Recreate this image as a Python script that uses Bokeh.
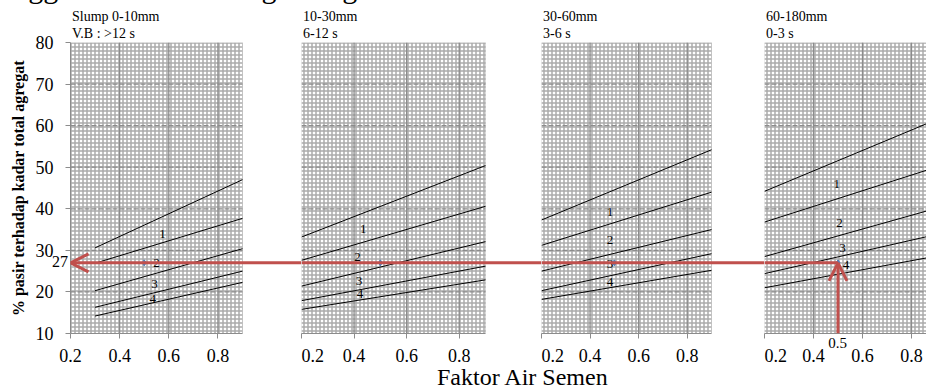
from bokeh.plotting import figure
from bokeh.layouts import row, column
from bokeh.models import Range1d, FixedTicker, BoxAnnotation, Arrow, OpenHead, Div
from bokeh.embed import file_html
from bokeh.resources import INLINE
from bokeh.core.properties import value

# ---------------- data ----------------
title_text = "Menggunakan Pasir Progo dengan Daerah Gradasi 4"
x_title = "Faktor Air Semen"
y_title = "% pasir terhadap kadar total agregat"

panel_slump = ["Slump 0-10mm", "10-30mm", "30-60mm", "60-180mm"]
panel_vb = ["V.B : >12 s", "6-12 s", "3-6 s", "0-3 s"]

x_ticks = [0.2, 0.4, 0.6, 0.8]
y_ticks = [10, 20, 30, 40, 50, 60, 70, 80]
x_min, x_max = 0.2, 0.9

# boundary lines of grading zones (upper of zone 1 ... lower of zone 4)
p1_x = [0.3, 0.9]
p1_lines = [[30.6, 47.0], [26.9, 37.7], [20.3, 30.4], [16.3, 25.0], [14.2, 22.3]]
p2_x = [0.2, 0.9]
p2_lines = [[33.2, 50.4], [27.6, 40.6], [21.4, 32.1], [17.9, 26.2], [15.8, 22.9]]
p3_x = [0.2, 0.9]
p3_lines = [[37.3, 54.2], [31.2, 44.0], [25.0, 35.0], [20.3, 29.2], [18.2, 25.2]]
p4_x = [0.2, 0.9]
p4_lines = [[44.2, 61.4], [36.8, 50.0], [28.5, 40.1], [24.4, 33.8], [21.0, 28.6]]

zone_names = ["1", "2", "3", "4"]
p1_zone_x = [0.574, 0.550, 0.542, 0.535]
p1_zone_y = [34.0, 26.9, 21.8, 18.3]
p2_zone_x = [0.435, 0.413, 0.419, 0.423]
p2_zone_y = [35.2, 28.4, 22.7, 19.5]
p3_zone_x = [0.482, 0.482, 0.482, 0.482]
p3_zone_y = [39.2, 32.4, 26.8, 22.3]
p4_zone_x = [0.495, 0.506, 0.518, 0.533]
p4_zone_y = [46.0, 36.5, 30.6, 26.4]

lookup_x = 0.5   # faktor air semen
lookup_y = 27    # % pasir

panels = [
    (p1_x, p1_lines, p1_zone_x, p1_zone_y),
    (p2_x, p2_lines, p2_zone_x, p2_zone_y),
    (p3_x, p3_lines, p3_zone_x, p3_zone_y),
    (p4_x, p4_lines, p4_zone_x, p4_zone_y),
]

# ---------------- layout / style ----------------
SERIF = "Liberation Serif"
RED = "#c0504d"
GRID_DARK = "#8c8c8c"
HATCH = "#ababab"
BLUE = "#4f81bd"

TOP, FRAME_H, BOTTOM = 42, 291, 35
H = TOP + FRAME_H + BOTTOM
panel_px = [172, 184, 170, 171.5]   # pixel width of the 0.2..0.9 panel
frame_px = [231, 240, 223, 162]     # pixel width of each figure frame (panel + gap)
left_border = [70, 0, 0, 0]
DIV_H = 22

figs = []
panel_left_px = []
x_scales = []
acc = 0
for i, (px, lines, zx, zy) in enumerate(panels):
    scale = panel_px[i] / (x_max - x_min)
    x_end = x_min + frame_px[i] / scale
    panel_left_px.append(acc + left_border[i])
    x_scales.append(scale)
    acc += left_border[i] + frame_px[i]

    p = figure(width=left_border[i] + frame_px[i], height=H,
               x_range=Range1d(x_min, x_end), y_range=Range1d(y_ticks[0], y_ticks[-1]),
               output_backend="svg", toolbar_location=None,
               y_axis_location="left" if i == 0 else None,
               min_border_left=left_border[i], min_border_right=0,
               min_border_top=TOP, min_border_bottom=BOTTOM,
               outline_line_color=None, background_fill_color="white",
               border_fill_color="white")
    p.grid.visible = False

    # panel background (fine grid pattern) + border
    p.add_layout(BoxAnnotation(left=x_min, right=x_max, bottom=y_ticks[0], top=y_ticks[-1],
                               fill_color="white", fill_alpha=1.0,
                               hatch_pattern="+", hatch_color=HATCH, hatch_scale=4,
                               hatch_weight=1.5, hatch_alpha=1.0,
                               line_color=GRID_DARK, line_width=1, level="underlay"))
    # major grid
    p.segment(x0=x_ticks[1:], x1=x_ticks[1:], y0=y_ticks[0], y1=y_ticks[-1],
              line_color=GRID_DARK, line_width=1.3)
    p.segment(x0=x_min, x1=x_max, y0=y_ticks[1:-1], y1=y_ticks[1:-1],
              line_color=GRID_DARK, line_width=1.3, line_dash="5 2")

    # zone boundary lines
    p.multi_line(xs=[px] * len(lines), ys=lines, line_color="black", line_width=1)
    p.text(x=zx, y=zy, text=zone_names, text_font=value(SERIF), text_font_size="13px",
           text_align="center", text_baseline="middle", text_color="#000000")

    # lookup marker
    p.scatter([lookup_x], [lookup_y], marker="diamond", size=6, color=BLUE)

    # x axis
    xa = p.xaxis[0]
    xa.ticker = FixedTicker(ticks=x_ticks)
    xa.bounds = (x_min, x_max)
    xa.axis_line_color = GRID_DARK
    xa.major_tick_line_color = GRID_DARK
    xa.major_tick_out = 5
    xa.major_tick_in = 0
    xa.minor_tick_out = 0
    xa.minor_tick_in = 0
    xa.major_label_text_font = SERIF
    xa.major_label_text_font_size = "18px"
    xa.major_label_text_color = "black"
    xa.major_label_standoff = 10

    # red lookup arrow pieces
    if i == 0:
        p.add_layout(Arrow(x_start=x_end, y_start=lookup_y, x_end=x_min, y_end=lookup_y,
                           start=None, end=OpenHead(size=18, line_color=RED, line_width=3),
                           line_color=RED, line_width=3))
    elif i < 3:
        p.segment(x0=x_min, x1=x_end, y0=lookup_y, y1=lookup_y, line_color=RED, line_width=3)
    else:
        p.segment(x0=x_min, x1=lookup_x, y0=lookup_y, y1=lookup_y, line_color=RED, line_width=3)
        p.add_layout(Arrow(x_start=lookup_x, y_start=y_ticks[0], x_end=lookup_x, y_end=lookup_y,
                           start=None, end=OpenHead(size=18, line_color=RED, line_width=3),
                           line_color=RED, line_width=3))

    if i == 0:
        ya = p.yaxis[0]
        ya.ticker = FixedTicker(ticks=y_ticks)
        ya.axis_line_color = GRID_DARK
        ya.major_tick_line_color = GRID_DARK
        ya.major_tick_out = 5
        ya.major_tick_in = 0
        ya.minor_tick_out = 0
        ya.minor_tick_in = 0
        ya.major_label_text_font = SERIF
        ya.major_label_text_font_size = "18px"
        ya.major_label_text_color = "black"
        ya.major_label_standoff = 12
        ya.axis_label = y_title
        ya.axis_label_text_font = SERIF
        ya.axis_label_text_font_size = "16px"
        ya.axis_label_text_font_style = "bold"
        ya.axis_label_text_color = "black"
        ya.axis_label_standoff = 6
    figs.append(p)

total_w = acc

# ---------- texts outside the plot frames (HTML overlay below the row) ----------
def y_px(v):  # canvas y of a data value
    return TOP + (y_ticks[-1] - v) / (y_ticks[-1] - y_ticks[0]) * FRAME_H

def txt(s, left, baseline, size, width=None, align="left"):
    # position relative to the Div (whose top-left is at page (0, H))
    top = baseline - H - 0.8375 * size
    w = f"width:{width}px;text-align:{align};" if width else ""
    return (f'<div style="position:absolute;left:{left:.1f}px;top:{top:.1f}px;{w}'
            f'font-family:\'{SERIF}\';font-size:{size}px;line-height:{size}px;'
            f'white-space:nowrap;color:black;">{s}</div>')

parts = []
parts.append(txt(title_text, 603 - 700, -2, 30, width=700, align="right"))
for i in range(4):
    parts.append(txt(panel_slump[i], panel_left_px[i] + 2, TOP - 20, 14))
    parts.append(txt(panel_vb[i], panel_left_px[i] + 2, TOP - 3, 14))
parts.append(txt(str(lookup_y), panel_left_px[0] - 40 - 2, y_px(lookup_y) + 5.4, 16,
                 width=40, align="right"))
lx = panel_left_px[3] + (lookup_x - x_min) * x_scales[3]
parts.append(txt(str(lookup_x), lx - 20, TOP + FRAME_H + 16, 15, width=40, align="center"))
parts.append(txt(x_title, 437, 385, 24))

div = Div(width=total_w, height=DIV_H, margin=(0, 0, 0, 0),
          text=f'<div style="position:relative;width:{total_w}px;height:{DIV_H}px;">'
               + "".join(parts) + '</div>')

layout = column(row(*figs, spacing=0), div, spacing=0)
open("out.html", "w").write(file_html(layout, INLINE))
